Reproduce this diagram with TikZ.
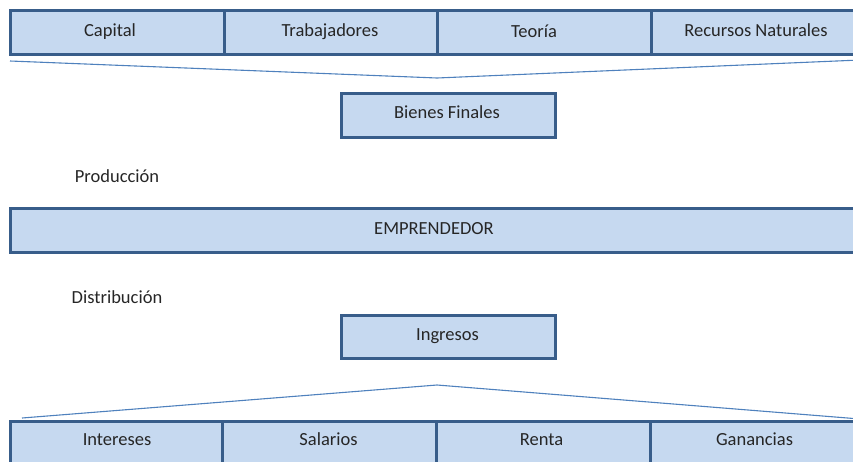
\documentclass[tikz,border=0pt]{standalone}
\usepackage{fontspec}
\setmainfont{Carlito}
\definecolor{boxfill}{RGB}{198,217,240}
\definecolor{boxline}{RGB}{56,93,138}
\definecolor{linkline}{RGB}{79,129,189}
\definecolor{txt}{RGB}{38,38,38}
\begin{document}
\begin{tikzpicture}[x=1pt,y=-1pt,
  cell/.style={draw=boxline,line width=3pt,fill=boxfill,minimum height=44pt},
  lbl/.style={font=\fontsize{18.5}{22}\selectfont,text=txt,inner sep=0pt,anchor=base},
  link/.style={draw=linkline,line width=1.1pt}]
\useasboundingbox (0,0) rectangle (853,461);
\clip (0,0) rectangle (853,461);
% top row
\node[cell,minimum width=214pt] (cap) at (117,32) {};
\node[cell,minimum width=213pt] (trab) at (330.5,32) {};
\node[cell,minimum width=214pt] (teo) at (544,32) {};
\node[cell,minimum width=214pt] (rec) at (758,32) {};
\node[lbl] (tcap) at (110,36.5) {Capital};
\node[lbl] (ttrab) at (330,36.5) {Trabajadores};
\node[lbl] (tteo) at (534,37) {Teoría};
\node[lbl] (trec) at (756,36.5) {Recursos Naturales};
% top funnel
\coordinate (t1) at (10,61);
\coordinate (t2) at (437,78);
\coordinate (t3) at (860,60);
\draw[link] (t1) -- (t2) -- (t3);
\node[cell,minimum width=214pt] (bf) at (448,115) {};
\node[lbl] (tbf) at (447,118.5) {Bienes Finales};
\node[lbl] (prod) at (117,182) {Producción};
\node[cell,minimum width=860pt] (emp) at (440,230) {};
\node[lbl] (temp) at (434,234) {EMPRENDEDOR};
\node[lbl] (dist) at (117,303) {Distribución};
\node[cell,minimum width=214pt,minimum height=43pt] (ing) at (448,336.5) {};
\node[lbl] (ting) at (447.5,340.5) {Ingresos};
% bottom funnel
\coordinate (b1) at (22,418);
\coordinate (b2) at (437,385);
\coordinate (b3) at (860,419);
\draw[link] (b1) -- (b2) -- (b3);
% bottom row
\node[cell,minimum width=212pt,anchor=north] (int) at (116,420) {};
\node[cell,minimum width=214pt,anchor=north] (sal) at (329,420) {};
\node[cell,minimum width=214pt,anchor=north] (ren) at (543,420) {};
\node[cell,minimum width=214pt,anchor=north] (gan) at (757,420) {};
\node[lbl] (tint) at (117,445) {Intereses};
\node[lbl] (tsal) at (328.5,445) {Salarios};
\node[lbl] (tren) at (541.5,445) {Renta};
\node[lbl] (tgan) at (754.5,445) {Ganancias};
\end{tikzpicture}
\end{document}
